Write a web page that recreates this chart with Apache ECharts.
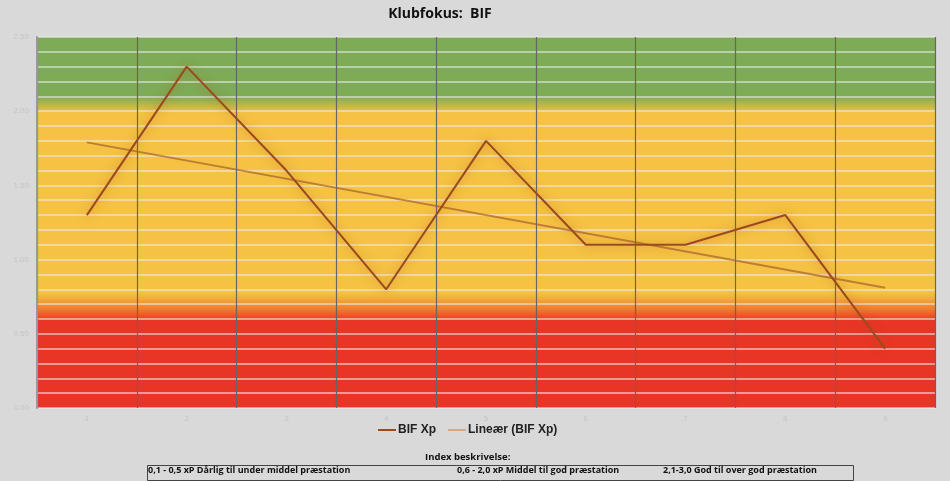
<!DOCTYPE html>
<html>
<head>
<meta charset="utf-8">
<script src="https://cdn.jsdelivr.net/npm/echarts@6/dist/echarts.min.js"></script>
<style>
  html, body { margin: 0; padding: 0; background: #d9d9d9; }
  #chart { width: 950px; height: 481px; }
</style>
</head>
<body>
<div id="chart"></div>
<script>
// kampe 1..9
const categories = ['1', '2', '3', '4', '5', '6', '7', '8', '9'];
const xpValues = [1.3, 2.3, 1.6, 0.8, 1.8, 1.1, 1.1, 1.3, 0.4];
// trendlinje: kun start- og slutpunkt
const trendValues = [1.79, null, null, null, null, null, null, null, 0.81];
const indexTexts = [
  '0,1 - 0,5 xP Dårlig til under middel præstation',
  '0,6 - 2,0 xP Middel til god præstation',
  '2,1-3,0 God til over god præstation',
];

const GREEN = '#7eab55';
const YELLOW = '#f5c243';
const ORANGE = '#ee7a2e';
const RED = '#e83526';

const chart = echarts.init(document.getElementById('chart'));

chart.setOption({
  backgroundColor: '#d9d9d9',
  animation: false,
  title: {
    text: 'Klubfokus:  BIF',
    left: 435,
    textAlign: 'center',
    top: 2,
    textStyle: { fontFamily: 'Open Sans', fontSize: 14, fontWeight: 'bold', color: '#111' },
  },
  grid: {
    left: 37, right: 15, top: 37, bottom: 73,
    show: true,
    borderWidth: 0,
    backgroundColor: new echarts.graphic.LinearGradient(0, 0, 0, 1, [
      { offset: 0, color: GREEN },
      { offset: 0.16, color: GREEN },
      { offset: 0.205, color: YELLOW },
      { offset: 0.69, color: YELLOW },
      { offset: 0.735, color: ORANGE },
      { offset: 0.765, color: RED },
      { offset: 1, color: RED },
    ]),
  },
  legend: {
    top: 419,
    left: 373,
    icon: 'rect',
    itemWidth: 18,
    itemHeight: 2,
    itemGap: 12,
    textStyle: { fontFamily: 'Liberation Sans', fontSize: 12, fontWeight: 'bold', color: '#222', padding: [0, 0, 0, -3] },
    data: ['BIF Xp', 'Lineær (BIF Xp)'],
  },
  xAxis: {
    type: 'category',
    data: categories,
    boundaryGap: true,
    axisLine: { show: false },
    axisTick: { show: false },
    axisLabel: { color: '#c4c4c4', fontSize: 8, margin: 7, fontFamily: 'Liberation Sans' },
    splitLine: { show: true, lineStyle: { color: '#666', width: 1.2 } },
  },
  yAxis: {
    type: 'value',
    min: 0,
    max: 2.5,
    interval: 0.5,
    axisLine: { show: true, lineStyle: { color: '#999', width: 2 } },
    axisTick: { show: false },
    axisLabel: {
      color: '#c4c4c4', fontSize: 8, margin: 8, fontFamily: 'Liberation Sans',
      formatter: (v) => v.toFixed(2),
    },
    splitLine: { lineStyle: { color: 'rgba(235,235,235,0.75)', width: 1.5 } },
    minorTick: { show: false, splitNumber: 5 },
    minorSplitLine: { show: true, lineStyle: { color: 'rgba(235,235,235,0.75)', width: 1.5 } },
  },
  series: [
    {
      name: 'BIF Xp',
      type: 'line',
      data: xpValues,
      symbol: 'none',
      color: '#9a4a1e',
      lineStyle: {
        color: '#9a4a1e', width: 2,
        shadowBlur: 10, shadowColor: 'rgba(170,80,30,0.55)',
      },
      z: 3,
    },
    {
      name: 'Lineær (BIF Xp)',
      type: 'line',
      data: trendValues,
      connectNulls: true,
      symbol: 'none',
      color: '#d2aa8a',
      lineStyle: { color: 'rgba(165,95,45,0.7)', width: 2 },
      z: 2,
    },
  ],
  graphic: [
    {
      type: 'text', left: 425, top: 452,
      style: { text: 'Index beskrivelse:', font: 'bold 9.5px "Open Sans"', fill: '#111' },
    },
    {
      type: 'rect', left: 145, top: 463,
      shape: { width: 706, height: 15 },
      style: { fill: 'none', stroke: '#444', lineWidth: 1 },
    },
    {
      type: 'text', left: 148, top: 466,
      style: { text: indexTexts[0], font: 'bold 9px "Open Sans"', fill: '#111' },
    },
    {
      type: 'text', left: 457, top: 466,
      style: { text: indexTexts[1], font: 'bold 9px "Open Sans"', fill: '#111' },
    },
    {
      type: 'text', left: 663, top: 466,
      style: { text: indexTexts[2], font: 'bold 9px "Open Sans"', fill: '#111' },
    },
  ],
});
</script>
</body>
</html>
